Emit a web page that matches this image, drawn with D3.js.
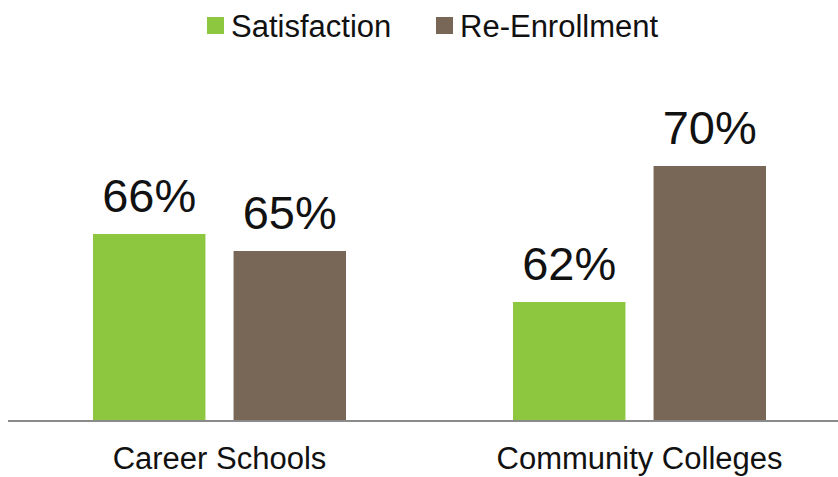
<!DOCTYPE html>
<html>
<head>
<meta charset="utf-8">
<script src="https://cdn.jsdelivr.net/npm/d3@7"></script>
<style>
  body { margin: 0; background: #fff; }
  text { font-family: "Liberation Sans", Arial, sans-serif; fill: #111; }
</style>
</head>
<body>
<script>
// metrics
const width = 838, height = 477;
const baseY = 421, axisLeft = 8;

// data
const categories = ["Career Schools", "Community Colleges"];
const seriesNames = ["Satisfaction", "Re-Enrollment"];
const satisfaction = [66, 62];
const reEnrollment = [65, 70];
const colors = ["#8dc63f", "#786656"];

const rows = categories.map((c, i) => ({
  cat: c,
  vals: [satisfaction[i], reEnrollment[i]]
}));

// elements
const svg = d3.select('body').append('svg')
    .attr('width', width)
    .attr('height', height);

// scales
const x0 = d3.scaleBand()
    .domain(categories)
    .range([9.5, 849.5]);
const x1 = d3.scaleBand()
    .domain(seriesNames)
    .range([83.5, 336.5])
    .paddingInner(0.2);
const y = d3.scaleLinear()
    .domain([55, 75])
    .range([baseY, baseY - 340]);

// bars
const groups = svg.selectAll('g.grp')
    .data(rows)
  .enter().append('g')
    .attr('class', 'grp')
    .attr('transform', d => `translate(${x0(d.cat)},0)`);

groups.selectAll('rect')
    .data(d => d.vals.map((v, i) => ({ s: seriesNames[i], v: v, i: i })))
  .enter().append('rect')
    .attr('x', d => x1(d.s))
    .attr('width', x1.bandwidth())
    .attr('y', d => y(d.v))
    .attr('height', d => baseY - y(d.v))
    .attr('fill', d => colors[d.i]);

groups.selectAll('text.val')
    .data(d => d.vals.map((v, i) => ({ s: seriesNames[i], v: v })))
  .enter().append('text')
    .attr('class', 'val')
    .attr('x', d => x1(d.s) + x1.bandwidth() / 2)
    .attr('y', d => y(d.v) - 22)
    .attr('text-anchor', 'middle')
    .style('font-size', '47px')
    .text(d => d.v + '%');

// axis
const xAxis = svg.append('g')
    .attr('transform', `translate(0,${baseY})`)
    .call(d3.axisBottom(x0).tickSize(0).tickPadding(26));
xAxis.select('.domain')
    .attr('d', `M${axisLeft},0H${width}`)
    .attr('stroke', '#8a8a8a')
    .attr('stroke-width', 2);
xAxis.selectAll('text')
    .style('font-size', '31px')
    .style('font-family', '"Liberation Sans", Arial, sans-serif')
    .attr('fill', '#111')
    .attr('dy', '0.71em');

// legend
const legendX = [207, 436];
const legend = svg.append('g');
seriesNames.forEach((s, i) => {
  legend.append('rect')
      .attr('x', legendX[i])
      .attr('y', 17)
      .attr('width', 17)
      .attr('height', 17)
      .attr('fill', colors[i]);
  legend.append('text')
      .attr('x', legendX[i] + 24)
      .attr('y', 37)
      .style('font-size', '31px')
      .text(s);
});
</script>
</body>
</html>
